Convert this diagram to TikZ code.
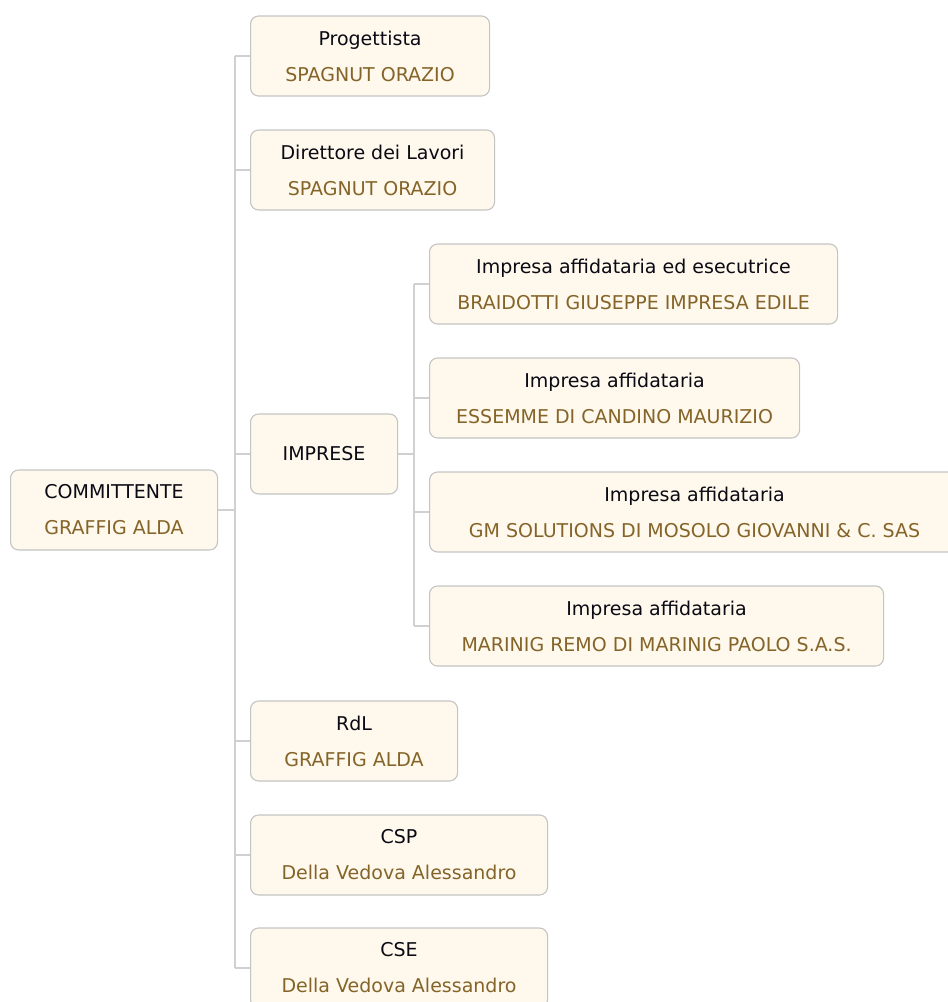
\documentclass[tikz,border=0pt]{standalone}
\usepackage{fontspec}
\setmainfont{DejaVu Sans}
\usepackage{tikz}
\usetikzlibrary{positioning,calc}
\definecolor{boxfill}{RGB}{255,248,236}
\definecolor{boxline}{RGB}{196,196,196}
\definecolor{wire}{RGB}{208,208,208}
\definecolor{gold}{RGB}{132,100,40}
\definecolor{ink}{RGB}{10,10,20}

\tikzset{
  role/.style={draw=boxline, line width=1.1pt, fill=boxfill, rounded corners=8pt, anchor=west,
    minimum height=80pt, inner xsep=0pt, align=center, text=ink,
    font=\fontsize{19}{36}\selectfont},
  wire/.style={draw=wire, line width=1.2pt}
}
\newcommand{\who}[2]{#1\\{\color{gold}#2}}

\begin{document}
\begin{tikzpicture}[x=1pt,y=-1pt]
      \path[use as bounding box, clip] (0,0) rectangle (948,1002);

      % root
      \node[role, minimum width=207pt] (comm) at (10,510) {\who{COMMITTENTE}{GRAFFIG ALDA}};

      % first level
      \node[role, minimum width=239pt] (prog) at (250,56) {\who{Progettista}{SPAGNUT ORAZIO}};
      \node[role, minimum width=244pt] (dl) at (250,170) {\who{Direttore dei Lavori}{SPAGNUT ORAZIO}};
      \node[role, minimum width=147pt] (imp) at (250,454) {IMPRESE};
      \node[role, minimum width=207pt] (rdl) at (250,741) {\who{RdL}{GRAFFIG ALDA}};
      \node[role, minimum width=297pt] (csp) at (250,855) {\who{CSP}{Della Vedova Alessandro}};
      \node[role, minimum width=297pt] (cse) at (250,968) {\who{CSE}{Della Vedova Alessandro}};

      % imprese
      \node[role, minimum width=408pt] (imp1) at (429,284) {\who{Impresa affidataria ed esecutrice}{BRAIDOTTI GIUSEPPE IMPRESA EDILE}};
      \node[role, minimum width=370pt] (imp2) at (429,398) {\who{Impresa affidataria}{ESSEMME DI CANDINO MAURIZIO}};
      \node[role, minimum width=530pt] (imp3) at (429,512) {\who{Impresa affidataria}{GM SOLUTIONS DI MOSOLO GIOVANNI \& C. SAS}};
      \node[role, minimum width=454pt] (imp4) at (429,626) {\who{Impresa affidataria}{MARINIG REMO DI MARINIG PAOLO S.A.S.}};

      % trunk lines
      \coordinate (t1) at (235,0);
      \coordinate (t2) at (414,0);
      \draw[wire] (comm.east) -- (comm.east -| t1);
      \draw[wire] (prog.west -| t1) -- (cse.west -| t1);
      \foreach \n in {prog,dl,imp,rdl,csp,cse}
        \draw[wire] (\n.west -| t1) -- (\n.west);
      \draw[wire] (imp.east) -- (imp.east -| t2);
      \draw[wire] (imp1.west -| t2) -- (imp4.west -| t2);
      \foreach \n in {imp1,imp2,imp3,imp4}
        \draw[wire] (\n.west -| t2) -- (\n.west);

    \end{tikzpicture}
\end{document}
